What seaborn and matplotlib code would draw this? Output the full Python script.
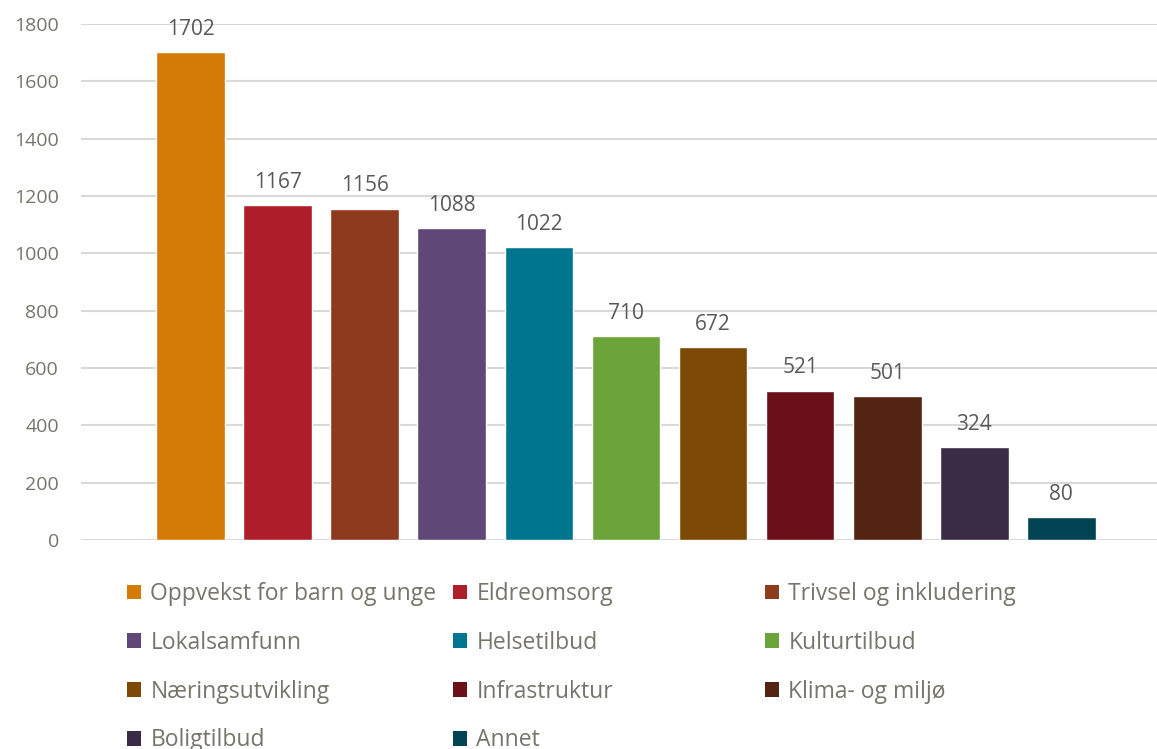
import matplotlib
matplotlib.use('Agg')
import matplotlib.pyplot as plt
from matplotlib.patches import Patch
import seaborn as sns
import pandas as pd

# data
categories = ['Oppvekst for barn og unge', 'Eldreomsorg', 'Trivsel og inkludering',
              'Lokalsamfunn', 'Helsetilbud', 'Kulturtilbud', 'Næringsutvikling',
              'Infrastruktur', 'Klima- og miljø', 'Boligtilbud', 'Annet']
values = [1702, 1167, 1156, 1088, 1022, 710, 672, 521, 501, 324, 80]
colors = ['#D47B07', '#AF1E2B', '#8E3A1E', '#5F4778', '#00758F', '#6BA539',
          '#7C4A06', '#6B1019', '#542412', '#3A2C47', '#004454']
yticks = [0, 200, 400, 600, 800, 1000, 1200, 1400, 1600, 1800]

df = pd.DataFrame({'kategori': categories, 'antall': values})

sns.set_style('white')
plt.rcParams['font.family'] = ['Open Sans', 'DejaVu Sans']
text_col = '#76756A'
label_col = '#595959'

fig = plt.figure(figsize=(11.57, 7.49), dpi=100)
ax = fig.add_axes([81/1157, 1 - 540/749, 1 - 81/1157, (540-24)/749])

sns.barplot(data=df, x='kategori', y='antall', hue='kategori', palette=colors,
            width=0.79, legend=False, ax=ax, saturation=1)

# value labels above bars
for i, v in enumerate(values):
    ax.annotate(str(v), (i, v), xytext=(0, 9), textcoords='offset points',
                ha='center', va='bottom', fontsize=15, color=label_col, clip_on=False)

ax.set_ylim(0, 1800)
ax.set_xlim(-1.26, 11.1)
ax.set_yticks(yticks)
ax.yaxis.grid(True, color='#D9D9D9', linewidth=1.5)
ax.set_axisbelow(True)
ax.set_xticks([])
ax.set_xlabel('')
ax.set_ylabel('')
ax.tick_params(axis='y', length=0, pad=16, labelsize=14, labelcolor=text_col)
for s in ax.spines.values():
    s.set_visible(False)

# legend in three columns, filled row by row
col_x = [127, 453, 765]
for c in range(3):
    idx = list(range(c, len(categories), 3))
    handles = [Patch(facecolor=colors[i], edgecolor='none', label=categories[i]) for i in idx]
    fig.legend(handles=handles, loc='upper left',
               bbox_to_anchor=(col_x[c]/1157, 1 - 582/749),
               frameon=False, fontsize=16.5, labelcolor=text_col,
               handlelength=0.62, handleheight=0.62, handletextpad=0.4,
               labelspacing=1.08, borderaxespad=0, borderpad=0)

fig.savefig('out.png', dpi=100)
